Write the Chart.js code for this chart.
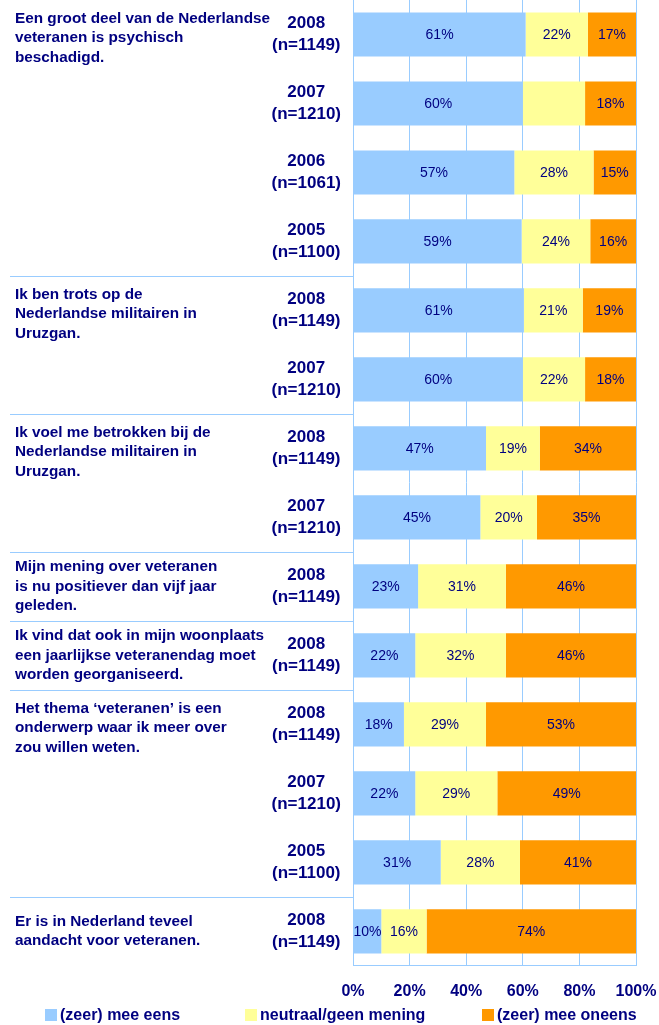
<!DOCTYPE html>
<html>
<head>
<meta charset="utf-8">
<script src="https://cdn.jsdelivr.net/npm/chart.js@4.4.0/dist/chart.umd.min.js"></script>
<style>
  body { margin: 0; background: #fff; }
  #wrap { position: relative; width: 659px; height: 1025px; }
  #legend { position: absolute; left: 0; top: 1004px; width: 659px; height: 21px;
            font: bold 16px "Liberation Sans", Arial, sans-serif; color: #000080; }
  .item { position: absolute; top: 0; white-space: nowrap; line-height: 21px; }
  .box { display: inline-block; width: 12px; height: 12px; margin-right: 3px; vertical-align: -1px; }
</style>
</head>
<body>
<div id="wrap">
  <canvas id="chart" width="659" height="1025"></canvas>
  <div id="legend"></div>
</div>
<script>
// data, one row per bar (top to bottom)
const years = ['2008', '2007', '2006', '2005', '2008', '2007', '2008', '2007', '2008', '2008', '2008', '2007', '2005', '2008'];
const sampleSizes = ['n=1149', 'n=1210', 'n=1061', 'n=1100', 'n=1149', 'n=1210', 'n=1149', 'n=1210', 'n=1149', 'n=1149', 'n=1149', 'n=1210', 'n=1100', 'n=1149'];
const agree    = [61, 60, 57, 59, 61, 60, 47, 45, 23, 22, 18, 22, 31, 10];
const neutral  = [22, 22, 28, 24, 21, 22, 19, 20, 31, 32, 29, 29, 28, 16];
const disagree = [17, 18, 15, 16, 19, 18, 34, 35, 46, 46, 53, 49, 41, 74];
const seriesNames = ['(zeer) mee eens', 'neutraal/geen mening', '(zeer) mee oneens'];
const xTicks = [0, 20, 40, 60, 80, 100];

// statements, and how many bars each one covers
const statements = [
  ['Een groot deel van de Nederlandse', 'veteranen is psychisch', 'beschadigd.'],
  ['Ik ben trots op de', 'Nederlandse militairen in', 'Uruzgan.'],
  ['Ik voel me betrokken bij de', 'Nederlandse militairen in', 'Uruzgan.'],
  ['Mijn mening over veteranen', 'is nu positiever dan vijf jaar', 'geleden.'],
  ['Ik vind dat ook in mijn woonplaats', 'een jaarlijkse veteranendag moet', 'worden georganiseerd.'],
  ['Het thema \u2018veteranen\u2019 is een', 'onderwerp waar ik meer over', 'zou willen weten.'],
  ['Er is in Nederland teveel', 'aandacht voor veteranen.']
];
const groupSizes = [4, 2, 2, 1, 1, 3, 1];
const unlabeled = ['1-1']; // row 2, neutral: no label in the source

const FONT = '"Liberation Sans", Arial, sans-serif';
const NAVY = '#000080';
const GRID = '#99ccff';
const colors = ['#99ccff', '#ffff99', '#ff9900'];

// 100% stacked: scale each row to its total
const raw = [agree, neutral, disagree];
const totals = agree.map((v, i) => v + neutral[i] + disagree[i]);

// statement text + separators on the left
const sidePlugin = {
  id: 'side',
  afterDraw(chart) {
    const ctx = chart.ctx;
    const y = chart.scales.y;
    const left = chart.chartArea.left;
    const pitch = y.getPixelForValue(1) - y.getPixelForValue(0);
    const lineH = 19.5;
    ctx.save();
    ctx.font = 'bold 15.3px ' + FONT;
    ctx.fillStyle = NAVY;
    ctx.textBaseline = 'middle';
    ctx.textAlign = 'left';
    let start = 0;
    groupSizes.forEach((n, g) => {
      const top = y.getPixelForValue(start) - pitch / 2;
      if (g > 0) {
        ctx.strokeStyle = GRID;
        ctx.lineWidth = 1.2;
        ctx.beginPath();
        ctx.moveTo(10, Math.round(top) + 0.5);
        ctx.lineTo(left, Math.round(top) + 0.5);
        ctx.stroke();
      }
      const lines = statements[g];
      const first = n === 1
        ? y.getPixelForValue(start) - (lines.length - 1) * lineH / 2
        : top + 18.5;
      lines.forEach((t, k) => ctx.fillText(t, 15, first + k * lineH));
      start += n;
    });
    ctx.restore();
  }
};

// percentage in the middle of each segment
const labelPlugin = {
  id: 'segLabels',
  afterDatasetsDraw(chart) {
    const ctx = chart.ctx;
    ctx.save();
    ctx.font = '14px ' + FONT;
    ctx.fillStyle = NAVY;
    ctx.textAlign = 'center';
    ctx.textBaseline = 'middle';
    chart.data.datasets.forEach((ds, d) => {
      chart.getDatasetMeta(d).data.forEach((bar, i) => {
        if (unlabeled.includes(i + '-' + d)) return;
        ctx.fillText(raw[d][i] + '%', (bar.x + bar.base) / 2, bar.y + 1);
      });
    });
    ctx.restore();
  }
};

new Chart(document.getElementById('chart'), {
  type: 'bar',
  data: {
    labels: years.map((y, i) => [y, '(' + sampleSizes[i] + ')']),
    datasets: raw.map((vals, d) => ({
      label: seriesNames[d],
      data: vals.map((v, i) => v / totals[i] * 100),
      backgroundColor: colors[d],
      borderWidth: 0,
      barPercentage: 0.64,
      categoryPercentage: 1
    }))
  },
  options: {
    indexAxis: 'y',
    responsive: false,
    animation: false,
    layout: { padding: { top: 0, right: 23, bottom: 8, left: 0 } },
    plugins: { legend: { display: false }, tooltip: { enabled: false } },
    scales: {
      x: {
        stacked: true,
        min: 0,
        max: 100,
        afterBuildTicks: s => { s.ticks = xTicks.map(v => ({ value: v })); },
        afterFit: s => { s.paddingLeft = 0; s.paddingRight = 0; },
        grid: { color: GRID, drawTicks: false },
        border: { color: GRID },
        ticks: {
          padding: 16,
          color: NAVY,
          font: { family: FONT, size: 16, weight: 'bold' },
          callback: v => v + '%'
        }
      },
      y: {
        stacked: true,
        grid: { display: false, drawTicks: false },
        border: { color: GRID },
        afterFit: s => { s.width = 353; s.paddingTop = 0; s.paddingBottom = 0; },
        ticks: {
          crossAlign: 'center',
          padding: 12,
          color: NAVY,
          font: { family: FONT, size: 17, weight: 'bold', lineHeight: 1.3 }
        }
      }
    }
  },
  plugins: [sidePlugin, labelPlugin]
});

// legend under the axis
const legendLefts = [45, 245, 482];
document.getElementById('legend').innerHTML = seriesNames.map((name, d) =>
  '<span class="item" style="left:' + legendLefts[d] + 'px"><span class="box" style="background:' +
  colors[d] + '"></span>' + name + '</span>').join('');
</script>
</body>
</html>
